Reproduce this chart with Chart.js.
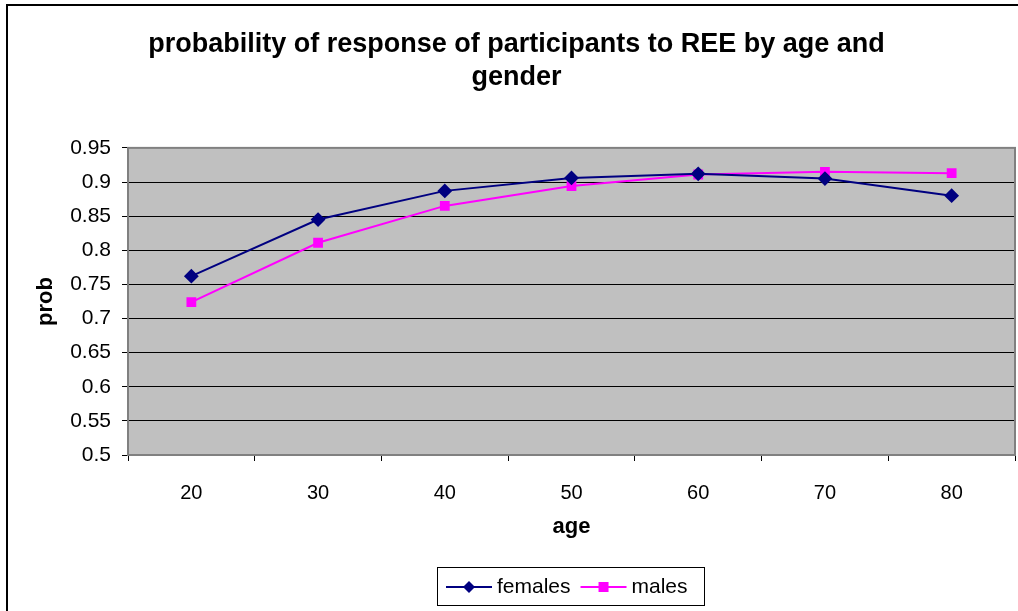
<!DOCTYPE html>
<html>
<head>
<meta charset="utf-8">
<script src="https://cdn.jsdelivr.net/npm/chart.js@4"></script>
<style>
  html, body { margin: 0; padding: 0; background: #fff; overflow: hidden; }
  #wrap { width: 1023px; height: 611px; position: relative; }
</style>
</head>
<body>
<div id="wrap"><canvas id="probChart"></canvas></div>
<script>
// valores
const ages = ['20', '30', '40', '50', '60', '70', '80'];
const females = [0.762, 0.845, 0.887, 0.906, 0.912, 0.905, 0.880];
const males = [0.724, 0.811, 0.865, 0.894, 0.911, 0.915, 0.913];
const yTicks = [0.5, 0.55, 0.6, 0.65, 0.7, 0.75, 0.8, 0.85, 0.9, 0.95];

const FONT = 'Arial, "Liberation Sans", sans-serif';

// fundo cinza da área de plotagem, borda e moldura externa
const frame = {
    id: 'frame',
    beforeDatasetsDraw(chart) {
        const a = chart.chartArea, ctx = chart.ctx;
        ctx.save();
        ctx.strokeStyle = '#808080';
        ctx.lineWidth = 2;
        ctx.strokeRect(a.left, a.top, a.right - a.left, a.bottom - a.top);
        ctx.restore();
    },
    beforeDraw(chart) {
        const a = chart.chartArea, ctx = chart.ctx;
        ctx.save();
        ctx.fillStyle = '#c0c0c0';
        ctx.fillRect(a.left, a.top, a.right - a.left, a.bottom - a.top);
        ctx.strokeStyle = '#000';
        ctx.lineWidth = 2;
        ctx.beginPath();
        ctx.moveTo(7, chart.height);
        ctx.lineTo(7, 5);
        ctx.lineTo(chart.width, 5);
        ctx.stroke();
        ctx.restore();
    },
    afterDraw(chart) {
        // legenda com linha + marcador, como no original
        const ctx = chart.ctx;
        const bx = 437, by = 567, bw = 267, bh = 38;
        ctx.save();
        ctx.fillStyle = '#fff';
        ctx.fillRect(bx, by, bw, bh);
        ctx.strokeStyle = '#000';
        ctx.lineWidth = 1;
        ctx.strokeRect(bx + 0.5, by + 0.5, bw, bh);
        ctx.font = '21px ' + FONT;
        ctx.textBaseline = 'middle';
        let x = bx + 9;
        const cy = by + bh / 2 + 1;
        chart.data.datasets.forEach(ds => {
            ctx.strokeStyle = ds.borderColor;
            ctx.lineWidth = 2;
            ctx.beginPath();
            ctx.moveTo(x, cy);
            ctx.lineTo(x + 46, cy);
            ctx.stroke();
            ctx.fillStyle = ds.pointBackgroundColor;
            const mx = x + 23;
            ctx.beginPath();
            if (ds.pointStyle === 'rectRot') {
                ctx.moveTo(mx, cy - 6); ctx.lineTo(mx + 6, cy);
                ctx.lineTo(mx, cy + 6); ctx.lineTo(mx - 6, cy);
                ctx.closePath(); ctx.fill();
            } else {
                ctx.fillRect(mx - 5, cy - 5, 10, 10);
            }
            ctx.fillStyle = '#000';
            ctx.fillText(ds.label, x + 51, cy);
            x += 51 + ctx.measureText(ds.label).width + 10;
        });
        ctx.restore();
    }
};

new Chart(document.getElementById('probChart'), {
    type: 'line',
    data: {
        labels: ages,
        datasets: [{
            label: 'females',
            data: females,
            borderColor: '#000080',
            backgroundColor: '#000080',
            pointBackgroundColor: '#000080',
            pointBorderColor: '#000080',
            pointStyle: 'rectRot',
            pointRadius: 6,
            borderWidth: 2,
            tension: 0
        }, {
            label: 'males',
            data: males,
            borderColor: '#ff00ff',
            backgroundColor: '#ff00ff',
            pointBackgroundColor: '#ff00ff',
            pointBorderColor: '#ff00ff',
            pointStyle: 'rect',
            pointRadius: 5.5,
            borderWidth: 2,
            tension: 0
        }]
    },
    options: {
        responsive: true,
        maintainAspectRatio: false,
        animation: false,
        layout: { padding: { top: 28, right: 0, bottom: 56, left: 10 } },
        plugins: {
            legend: { display: false },
            tooltip: { enabled: false },
            title: {
                display: true,
                text: ['probability of response of participants to REE by age and', 'gender'],
                color: '#000',
                font: { family: FONT, size: 27, weight: 'bold', lineHeight: 1.22 },
                padding: { top: 0, bottom: 54 }
            }
        },
        scales: {
            x: {
                offset: true,
                afterFit(s) { s.height = 100; },
                grid: { display: true, drawOnChartArea: false, offset: true, color: '#000', tickLength: 6 },
                border: { display: true, color: '#808080', width: 2 },
                ticks: { color: '#000', padding: 20, font: { family: FONT, size: 20 } },
                title: { display: true, text: 'age', color: '#000', font: { family: FONT, size: 22, weight: 'bold' }, padding: { top: 0, bottom: 15 } }
            },
            y: {
                min: 0.5,
                max: 0.95,
                afterFit(s) { s.width = 118; },
                afterBuildTicks(s) { s.ticks = yTicks.map(v => ({ value: v })); },
                grid: { color: '#000', lineWidth: 1, tickLength: 6, drawTicks: true },
                border: { display: true, color: '#808080', width: 2 },
                ticks: { color: '#000', padding: 11, font: { family: FONT, size: 21 }, callback: v => String(+v.toFixed(2)) },
                title: { display: true, text: 'prob', color: '#000', font: { family: FONT, size: 22, weight: 'bold' }, padding: { top: 23, bottom: 0 } }
            }
        }
    },
    plugins: [frame]
});
</script>
</body>
</html>
